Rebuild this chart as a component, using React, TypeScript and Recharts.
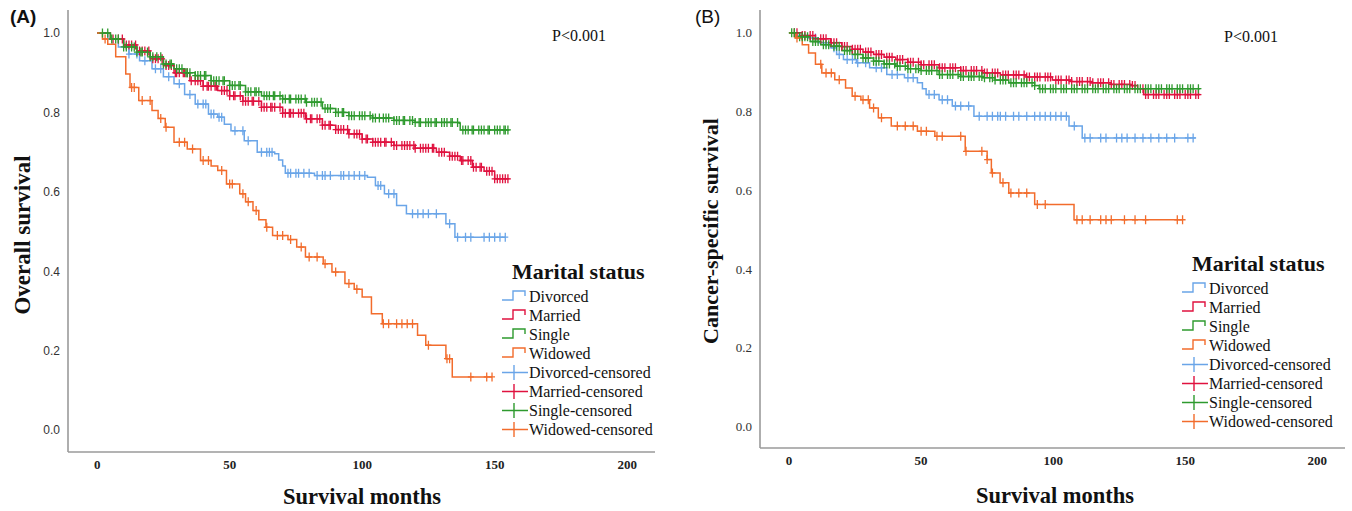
import React from 'react';
import { ComposedChart, Line, Scatter, XAxis, YAxis } from 'recharts';

// step points [month, survival]
const divorcedA = [[0,1],[4,0.985],[8,0.965],[12,0.947],[16,0.93],[20.7,0.91],[25,0.89],[29,0.872],[33,0.845],[37,0.821],[42,0.796],[45.5,0.788],[48,0.77],[50.5,0.754],[55.5,0.729],[60.4,0.7],[67,0.696],[68.5,0.68],[70,0.665],[71,0.647],[82,0.641],[102,0.637],[105,0.616],[108.4,0.595],[113,0.566],[116.7,0.545],[131.6,0.52],[135,0.486],[154,0.486]];
const marriedA = [[0,1],[5,0.985],[10,0.97],[15,0.955],[20,0.935],[25,0.918],[29,0.9],[35,0.88],[40,0.866],[45.5,0.855],[50,0.842],[55,0.828],[62,0.813],[70,0.798],[78.6,0.784],[85,0.768],[90,0.757],[95,0.746],[100,0.733],[104,0.725],[112,0.717],[120,0.71],[128,0.7],[133,0.69],[137,0.679],[141.6,0.662],[146,0.652],[150,0.633],[155.6,0.633]];
const singleA = [[0,1],[5,0.985],[10,0.965],[15,0.952],[20,0.94],[25,0.922],[29,0.91],[33,0.9],[37,0.893],[43,0.88],[50,0.868],[56,0.852],[62,0.842],[70,0.834],[78.6,0.826],[85,0.81],[90,0.8],[95,0.792],[104,0.786],[112,0.78],[120,0.775],[136.6,0.773],[137,0.756],[155.6,0.756]];
const widowedA = [[0,1],[2,0.985],[4,0.972],[7,0.94],[10.8,0.897],[12.4,0.863],[15.7,0.83],[20.7,0.805],[23,0.785],[25.7,0.763],[29,0.725],[34,0.708],[39,0.679],[43,0.665],[45.5,0.654],[48.8,0.62],[53.8,0.595],[56,0.575],[58.8,0.553],[61,0.53],[63.7,0.511],[66.2,0.49],[72,0.48],[75.3,0.461],[78.6,0.436],[85.3,0.419],[88.6,0.398],[93.5,0.369],[97,0.355],[100,0.335],[103.5,0.293],[107.6,0.268],[120.9,0.239],[124,0.214],[131.6,0.18],[134,0.134],[149,0.134]];

const divorcedB = [[0,1],[3,0.993],[7.4,0.987],[11,0.975],[15.7,0.962],[18,0.945],[20.6,0.932],[25.5,0.924],[30.5,0.911],[37,0.894],[43.7,0.886],[48.6,0.873],[50.5,0.858],[51.9,0.843],[56.8,0.83],[61.8,0.814],[70,0.788],[106,0.763],[111,0.733],[154,0.733]];
const marriedB = [[0,1],[5,0.993],[10,0.985],[15.7,0.975],[20,0.965],[23.9,0.958],[28,0.951],[32,0.945],[36,0.938],[40.4,0.932],[45,0.925],[50,0.919],[56.8,0.911],[65,0.904],[73.3,0.898],[80,0.893],[89.8,0.888],[99.7,0.88],[107,0.876],[114.5,0.873],[122,0.869],[129.3,0.866],[132,0.858],[134.3,0.843],[155.7,0.843]];
const singleB = [[0,1],[4,0.99],[8,0.978],[12,0.97],[15.7,0.966],[20,0.955],[23.9,0.945],[28,0.936],[32,0.928],[36,0.921],[40.4,0.915],[45,0.909],[50,0.904],[56.8,0.894],[65,0.889],[73.3,0.886],[78,0.88],[83.2,0.873],[93,0.866],[94.7,0.858],[155.7,0.858]];
const widowedB = [[0,1],[2.5,0.987],[5,0.97],[7.4,0.949],[10,0.92],[12.4,0.898],[17.3,0.881],[21.4,0.86],[23.9,0.839],[27.2,0.83],[30.5,0.809],[33.8,0.784],[38.7,0.763],[48.6,0.75],[55.2,0.737],[66.7,0.699],[75,0.678],[76.6,0.644],[79.9,0.619],[83.2,0.593],[93,0.564],[107.9,0.525],[149,0.525]];

// censoring times (months)
const divorcedACens = [12,15,18,22,24,27,31,35,38,40,41,43,44,46,47,52,55,57,62,64,65,66,72,73,75,76,78,80,83,85,86,88,92,93,95,97,99,101,106,107,110,112,119,121,123,125,128,133,136,139,141,146,148,150,152,154];
const marriedACens = [6,8,9.5,11,12,13,14.5,16,17,18,19.5,21,22,23,24.5,26,27,28,29.5,30,31,32.5,33,34,35.5,37,38,39,40,41.5,42,43,44.5,45,47,48,49,50,51.5,52,54,55,56,57,58.5,59,61,62,63,64,65.5,66,67,69,70,71,72.5,73,74,76,77,78,79,80.5,81,83,84,85,86,87.5,88,90,91,92,93,94.5,95,97,98,99,100,101.5,102,104,105,106,107,108.5,109,111,112,113,115,116,117,118,119.5,120,122,123,124,125,126.5,127,129,130,131,133,134,135,136,137.5,138,140,141,142,143,144.5,145,147,148,149,150,151,152,153,154,155];
const singleACens = [2,4,5.5,7,8,10,11,13,14,15,16.5,17,19,20,21,22.5,24,25,26,27.5,28,30,31,32,33.5,34,35,37,38,39,40.5,41,43,44,45,46,47.5,48,50,51,52,53.5,54,56,57,58,59.5,60,61,63,64,65,66.5,67,69,70,71,72.5,73,75,76,77,78.5,79,81,82,83,84.5,86,87,88,90,91,92.5,93,95,96,97,99,100,101,103,104,105,106.5,108,109,110,112,113,114,115.5,116,118,119,120,121.5,122,124,125,126,127.5,128,130,131,132,133.5,134,136,138,139,140,141.5,142,144,145,146,147.5,148,150,151,152,153.5,154,155];
const widowedACens = [3,13,14,17,20,24,26,31,33,36,40,42,47,50,51,55,57,60,64,68,70,73,77,80,83,86,90,95,98,108,110,113,115,117,119,125,132,133,141,147,149];

const divorcedBCens = [10,14,17,19,22,24,26,29,33,35,39,41,45,47,53,55,58,60,63,65,68,72,75,77,79,80,82,85,87,90,93,95,97,99,101,103,105,108,112,114,118,120,124,126,128,131,134,137,140,143,146,151,153];
const marriedBCens = [2,3,5,6,8,9,10,12,13,14,16,17,18,20,21,22,24,25,26,27,29,30,31,33,34,35,37,38,39,41,42,43,45,46,47,49,50,51,53,54,55,57,58,59,61,62,63,65,66,67,69,70,71,73,74,75,77,78,79,81,82,83,85,86,87,89,90,91,93,94,95,97,98,99,101,102,103,105,106,107,109,110,111,113,114,115,117,118,119,121,122,123,125,126,127,129,130,131,134,135,136,138,139,140,142,143,144,146,147,148,150,151,152,154,155];
const singleBCens = [1,2,4,5,6,7,9,10,11,13,14,15,17,18,19,21,22,23,25,26,28,29,30,32,33,34,36,37,38,40,41,42,44,45,46,48,49,50,52,53,54,56,57,58,60,61,62,64,65,66,68,69,70,72,73,74,76,77,78,80,81,82,84,85,86,88,89,90,92,93,95,96,97,99,100,101,103,104,105,107,108,109,111,112,113,115,116,117,119,120,121,123,124,125,127,128,129,131,132,133,135,136,137,139,140,141,143,144,145,147,148,149,151,152,153,155];
const widowedBCens = [3,12,14,16,19,25,28,30,32,35,41,44,47,50,52,56,58,65,67,73,75,77,81,84,87,90,94,97,109,111,114,118,120,122,127,131,135,147,149];

const groups = ['Divorced', 'Married', 'Single', 'Widowed'];
const colors = ['#6aa5e8', '#e0123f', '#2e9a2e', '#f26c2c'];
const xTicks = [0, 50, 100, 150, 200];
const yTicks = [0, 0.2, 0.4, 0.6, 0.8, 1.0];

const toRows = (pts: number[][]) => pts.map(([t, s]) => ({ t, s }));
const stepAt = (pts: number[][], t: number) => {
  let v = pts[0][1];
  for (const [pt, ps] of pts) if (pt <= t) v = ps;
  return v;
};
const censRows = (pts: number[][], times: number[]) => times.map((t) => ({ t, s: stepAt(pts, t) }));

const serif = '"Liberation Serif", "Times New Roman", serif';
const sans = '"Liberation Sans", Arial, sans-serif';

const plus = (color: string) => (props: any) => {
  const { cx, cy } = props;
  return <path d={`M${cx - 3},${cy}H${cx + 3}M${cx},${cy - 4.5}V${cy + 4.5}`} stroke={color} strokeWidth={1.3} fill="none" />;
};

const LegendBox: React.FC<{ left: number; top: number }> = ({ left, top }) => (
  <div style={{ position: 'absolute', left, top, fontFamily: serif, color: '#111' }}>
    <div style={{ fontWeight: 'bold', fontSize: 22, marginLeft: 11, lineHeight: '30px' }}>Marital status</div>
    {groups.map((g, i) => (
      <div key={g} style={{ display: 'flex', alignItems: 'center', height: 19, fontSize: 16 }}>
        <svg width={28} height={19}>
          <path d="M1,13H12V4H24V9" stroke={colors[i]} strokeWidth={1.4} fill="none" />
        </svg>
        <span>{g}</span>
      </div>
    ))}
    {groups.map((g, i) => (
      <div key={g + 'c'} style={{ display: 'flex', alignItems: 'center', height: 19, fontSize: 16 }}>
        <svg width={28} height={19}>
          <path d="M1,9.5H27M13,2V17" stroke={colors[i]} strokeWidth={1.4} fill="none" />
        </svg>
        <span>{g}-censored</span>
      </div>
    ))}
  </div>
);

const KMPanel: React.FC<{
  width: number;
  margin: { top: number; right: number; left: number; bottom: number };
  curves: number[][][];
  cens: number[][];
  yFont: string;
}> = ({ width, margin, curves, cens, yFont }) => (
  <ComposedChart width={width} height={511} margin={margin}>
    <XAxis
      type="number"
      dataKey="t"
      domain={[-11, 210.5]}
      ticks={xTicks}
      allowDataOverflow
      height={30}
      tickLine={false}
      axisLine={{ stroke: '#9a9a9a', strokeWidth: 1.6 }}
      tick={{ fill: '#222', fontSize: 13, fontFamily: serif, fontWeight: 'bold' }}
    />
    <YAxis
      type="number"
      dataKey="s"
      domain={[-0.055, 1.058]}
      ticks={yTicks}
      allowDataOverflow
      width={40}
      tickLine={false}
      tickFormatter={(v: number) => v.toFixed(1)}
      axisLine={{ stroke: '#9a9a9a', strokeWidth: 1.6 }}
      tick={{ fill: '#333', fontSize: yFont === sans ? 12 : 13, fontFamily: yFont }}
    />
    {curves.map((pts, i) => (
      <Line
        key={'l' + i}
        data={toRows(pts)}
        dataKey="s"
        type="stepAfter"
        stroke={colors[i]}
        strokeWidth={1.5}
        dot={false}
        activeDot={false}
        isAnimationActive={false}
      />
    ))}
    {curves.map((pts, i) => (
      <Scatter
        key={'c' + i}
        data={censRows(pts, cens[i])}
        dataKey="s"
        shape={plus(colors[i])}
        isAnimationActive={false}
      />
    ))}
  </ComposedChart>
);

const textBase: React.CSSProperties = { position: 'absolute', fontFamily: serif, color: '#111', whiteSpace: 'nowrap' };

export default function App() {
  return (
    <div style={{ position: 'absolute', left: 0, top: 0, width: 1352, height: 511, background: '#fff', overflow: 'hidden' }}>
      <div style={{ position: 'absolute', left: 0, top: 0 }}>
        <KMPanel
          width={680}
          margin={{ top: 10, right: 25, left: 28, bottom: 29 }}
          curves={[divorcedA, marriedA, singleA, widowedA]}
          cens={[divorcedACens, marriedACens, singleACens, widowedACens]}
          yFont={sans}
        />
      </div>
      <div style={{ position: 'absolute', left: 680, top: 0 }}>
        <KMPanel
          width={672}
          margin={{ top: 10, right: 7, left: 40, bottom: 33 }}
          curves={[divorcedB, marriedB, singleB, widowedB]}
          cens={[divorcedBCens, marriedBCens, singleBCens, widowedBCens]}
          yFont={serif}
        />
      </div>

      <div style={{ ...textBase, left: 10, top: 6, fontFamily: sans, fontWeight: 'bold', fontSize: 19 }}>(A)</div>
      <div style={{ ...textBase, left: 695, top: 6, fontFamily: sans, fontSize: 19 }}>(B)</div>

      <div style={{ ...textBase, left: 552, top: 27, fontSize: 16 }}>P&lt;0.001</div>
      <div style={{ ...textBase, left: 1224, top: 28, fontSize: 16 }}>P&lt;0.001</div>

      <div style={{ ...textBase, left: 23, top: 235, fontSize: 23, fontWeight: 'bold', transform: 'translate(-50%, -50%) rotate(-90deg)' }}>Overall survival</div>
      <div style={{ ...textBase, left: 711, top: 231, fontSize: 22, fontWeight: 'bold', transform: 'translate(-50%, -50%) rotate(-90deg)' }}>Cancer-specific survival</div>

      <div style={{ ...textBase, left: 362, top: 497, fontSize: 22.5, fontWeight: 'bold', transform: 'translate(-50%, -50%)' }}>Survival months</div>
      <div style={{ ...textBase, left: 1055, top: 496, fontSize: 22.5, fontWeight: 'bold', transform: 'translate(-50%, -50%)' }}>Survival months</div>

      <LegendBox left={501} top={257} />
      <LegendBox left={1181} top={249} />
    </div>
  );
}
